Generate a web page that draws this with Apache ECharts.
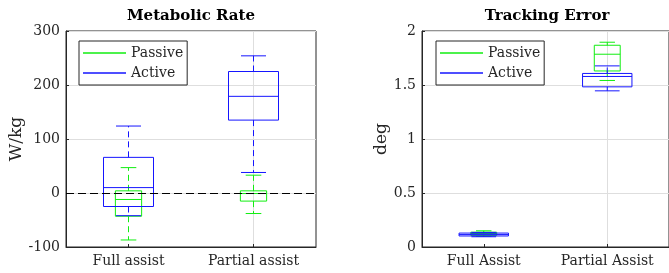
<!DOCTYPE html>
<html>
<head>
<meta charset="utf-8">
<script src="https://cdn.jsdelivr.net/npm/echarts@6/dist/echarts.min.js"></script>
<style>
  html, body { margin: 0; padding: 0; background: #fff; }
  #chart { width: 669px; height: 273px; }
</style>
</head>
<body>
<div id="chart"></div>
<script>
// categories for both panels
const metabolicCats = ["Full assist", "Partial assist"];
const trackingCats = ["Full Assist", "Partial Assist"];

// box stats: [min, q1, median, q3, max]
const metabolicPassive = [[-87, -43, -12, 4, 47], [-38, -15, -1, 4, 33]];
const metabolicActive = [[-42, -25, 10, 66, 124], [38, 135, 179, 225, 254]];
const trackingPassive = [[0.1, 0.108, 0.125, 0.137, 0.15], [1.542, 1.63, 1.785, 1.868, 1.896]];
const trackingActive = [[0.095, 0.102, 0.115, 0.129, 0.135], [1.446, 1.483, 1.579, 1.607, 1.677]];

const metabolicTicks = [-100, 0, 100, 200, 300];
const trackingTicks = [0, 0.5, 1, 1.5, 2];

const GREEN = "#11ee11";
const BLUE = "#1515ff";
const INK = "#262626";
const FONT = "DejaVu Serif";

// categories sit at x = 1 and 3 on a 0..4 value axis
function toItems(stats) {
  return stats.map((s, i) => [2 * i + 1].concat(s));
}

function boxSeries(name, stats, color, boxW, capW, idx, extra) {
  return Object.assign({
    name: name,
    type: "custom",
    xAxisIndex: idx,
    yAxisIndex: idx,
    itemStyle: { color: color },
    encode: { x: 0, y: [1, 2, 3, 4, 5] },
    data: toItems(stats),
    renderItem: function (params, api) {
      const x = api.value(0);
      const half = api.size([boxW, 0])[0] / 2;
      const capHalf = api.size([capW, 0])[0] / 2;
      const pMin = api.coord([x, api.value(1)]);
      const pQ1 = api.coord([x, api.value(2)]);
      const pMed = api.coord([x, api.value(3)]);
      const pQ3 = api.coord([x, api.value(4)]);
      const pMax = api.coord([x, api.value(5)]);
      const cx = pMin[0];
      const solid = { stroke: color, lineWidth: 1, fill: null };
      const dashed = { stroke: color, lineWidth: 1, lineDash: [6, 4] };
      return {
        type: "group",
        children: [
          { type: "line", shape: { x1: cx, y1: pQ3[1], x2: cx, y2: pMax[1] }, style: dashed },
          { type: "line", shape: { x1: cx, y1: pQ1[1], x2: cx, y2: pMin[1] }, style: dashed },
          { type: "line", shape: { x1: cx - capHalf, y1: pMax[1], x2: cx + capHalf, y2: pMax[1] }, style: solid },
          { type: "line", shape: { x1: cx - capHalf, y1: pMin[1], x2: cx + capHalf, y2: pMin[1] }, style: solid },
          { type: "rect", shape: { x: cx - half, y: pQ3[1], width: half * 2, height: pQ1[1] - pQ3[1] }, style: solid },
          { type: "line", shape: { x1: cx - half, y1: pMed[1], x2: cx + half, y2: pMed[1] }, style: solid }
        ]
      };
    }
  }, extra || {});
}

function xAxisFor(idx, cats) {
  return {
    type: "value",
    gridIndex: idx,
    min: 0,
    max: 4,
    interval: 1,
    axisLine: { show: true, onZero: false, lineStyle: { color: INK } },
    axisTick: { show: true, inside: true, length: 3, customValues: [1, 3], lineStyle: { color: INK } },
    axisLabel: {
      customValues: [1, 3],
      formatter: (v) => cats[(v - 1) / 2] || "",
      color: INK,
      fontFamily: FONT,
      fontSize: 14,
      margin: 7
    },
    splitLine: { show: true, lineStyle: { color: ["rgba(0,0,0,0)", "#dedede"], width: 1 } }
  };
}

function yAxisFor(idx, name, ticks, gap) {
  return {
    type: "value",
    gridIndex: idx,
    name: name,
    nameLocation: "middle",
    nameGap: gap,
    nameTextStyle: { color: INK, fontFamily: FONT, fontSize: 17 },
    min: ticks[0],
    max: ticks[ticks.length - 1],
    interval: ticks[1] - ticks[0],
    axisLine: { show: true, lineStyle: { color: INK } },
    axisTick: { show: true, inside: true, length: 3, lineStyle: { color: INK } },
    axisLabel: { color: INK, fontFamily: FONT, fontSize: 14, margin: 6 },
    splitLine: { show: true, lineStyle: { color: "#dedede", width: 1 } }
  };
}

function legendFor(left) {
  return {
    orient: "vertical",
    left: left,
    top: 41,
    padding: [3, 4, 3, 4],
    itemGap: 2,
    itemWidth: 43,
    itemHeight: 1.5,
    backgroundColor: "#fff",
    borderColor: INK,
    borderWidth: 1,
    borderRadius: 0,
    textStyle: { color: INK, fontFamily: FONT, fontSize: 14, lineHeight: 18, padding: [0, 0, 0, 0] },
    data: [
      { name: "Passive", icon: "rect", itemStyle: { color: GREEN, borderWidth: 0 } },
      { name: "Active", icon: "rect", itemStyle: { color: BLUE, borderWidth: 0 } }
    ]
  };
}

const chart = echarts.init(document.getElementById("chart"));

chart.setOption({
  animation: false,
  backgroundColor: "#fff",
  graphic: [
    { type: "text", x: 191, y: 16, style: { text: "Metabolic Rate", textAlign: "center", textVerticalAlign: "middle", fill: "#000", font: "bold 15px 'DejaVu Serif'" } },
    { type: "text", x: 547, y: 16, style: { text: "Tracking Error", textAlign: "center", textVerticalAlign: "middle", fill: "#000", font: "bold 15px 'DejaVu Serif'" } }
  ],
  grid: [
    { left: 66, top: 31, width: 250, height: 216, show: true, borderColor: INK, borderWidth: 1, backgroundColor: "#fff", containLabel: false },
    { left: 422, top: 31, width: 250, height: 216, show: true, borderColor: INK, borderWidth: 1, backgroundColor: "#fff", containLabel: false }
  ],
  legend: [legendFor(79), legendFor(436)],
  xAxis: [xAxisFor(0, metabolicCats), xAxisFor(1, trackingCats)],
  yAxis: [yAxisFor(0, "W/kg", metabolicTicks, 40), yAxisFor(1, "deg", trackingTicks, 31)],
  series: [
    boxSeries("Passive", metabolicPassive, GREEN, 0.42, 0.25, 0),
    boxSeries("Active", metabolicActive, BLUE, 0.8, 0.4, 0, {
      markLine: {
        silent: true,
        symbol: "none",
        label: { show: false },
        lineStyle: { color: "#000", type: [8, 4], width: 1 },
        data: [{ yAxis: 0 }]
      }
    }),
    boxSeries("Passive", trackingPassive, GREEN, 0.42, 0.25, 1),
    boxSeries("Active", trackingActive, BLUE, 0.8, 0.4, 1)
  ]
});
</script>
</body>
</html>
